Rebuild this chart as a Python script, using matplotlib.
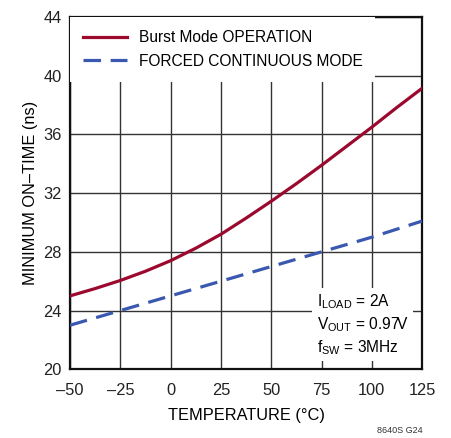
import matplotlib
matplotlib.use('Agg')
import matplotlib.pyplot as plt

font = 'Liberation Sans'
plt.rcParams['font.family'] = [font, 'DejaVu Sans']
plt.rcParams['mathtext.fontset'] = 'custom'
plt.rcParams['mathtext.rm'] = font

temps = [-50, -37.5, -25, -12.5, 0, 12.5, 25, 37.5, 50, 62.5, 75, 87.5, 100, 112.5, 125]
burst = [25.0, 25.5, 26.05, 26.68, 27.4, 28.25, 29.2, 30.3, 31.45, 32.65, 33.9, 35.2, 36.5, 37.85, 39.15]
forced = [23.0, 23.5, 24.0, 24.5, 25.0, 25.5, 26.0, 26.5, 27.0, 27.5, 28.0, 28.5, 29.0, 29.55, 30.1]
xticks = [-50, -25, 0, 25, 50, 75, 100, 125]
xtick_labels = ['\u201350', '\u201325', '0', '25', '50', '75', '100', '125']
yticks = [20, 24, 28, 32, 36, 40, 44]

fs = 11.8
fs_leg = 11.2

fig = plt.figure(figsize=(4.52, 4.38), dpi=100)
ax = fig.add_axes([0.155, 0.157, 0.779, 0.804])

ax.plot(temps, burst, color='#9b0a2e', lw=2.3, label='Burst Mode OPERATION', zorder=3)
ax.plot(temps, forced, color='#3a58b0', lw=2.3, dashes=(5.5, 3), label='FORCED CONTINUOUS MODE', zorder=3)

ax.set_xlim(-50, 125)
ax.set_ylim(20, 44)
ax.set_xticks(xticks)
ax.set_xticklabels(xtick_labels)
ax.set_yticks(yticks)
ax.tick_params(axis='x', length=0, labelsize=fs, pad=10, colors='#222222')
ax.tick_params(axis='y', length=0, labelsize=fs, pad=6, colors='#222222')
ax.grid(True, color='#333333', lw=1.0)
for s in ax.spines.values():
    s.set_linewidth(1.6)
    s.set_color('#111111')

ax.set_xlabel('TEMPERATURE (\u00b0C)', fontsize=fs, labelpad=7)
ax.set_ylabel('MINIMUM ON\u2013TIME (ns)', fontsize=fs, labelpad=4)

leg = ax.legend(loc='upper left', bbox_to_anchor=(0.0, 1.0), fontsize=fs_leg, frameon=True,
                fancybox=False, framealpha=1, edgecolor='none', facecolor='white',
                handlelength=2.8, handletextpad=0.75, borderaxespad=0.0, borderpad=0.85,
                labelspacing=0.55)
leg.set_zorder(4)

ax.text(0.7, 0.035,
        'I$_{\\rm LOAD}$ = 2A\nV$_{\\rm OUT}$ = 0.97V\nf$_{\\rm SW}$ = 3MHz',
        transform=ax.transAxes, fontsize=fs_leg, va='bottom', ha='left', linespacing=1.3,
        bbox=dict(facecolor='white', edgecolor='none', pad=3), zorder=4)

fig.text(0.934, 0.007, '8640S G24', fontsize=6.5, ha='right', va='bottom', color='#333333')

fig.savefig('out.png', dpi=100)
